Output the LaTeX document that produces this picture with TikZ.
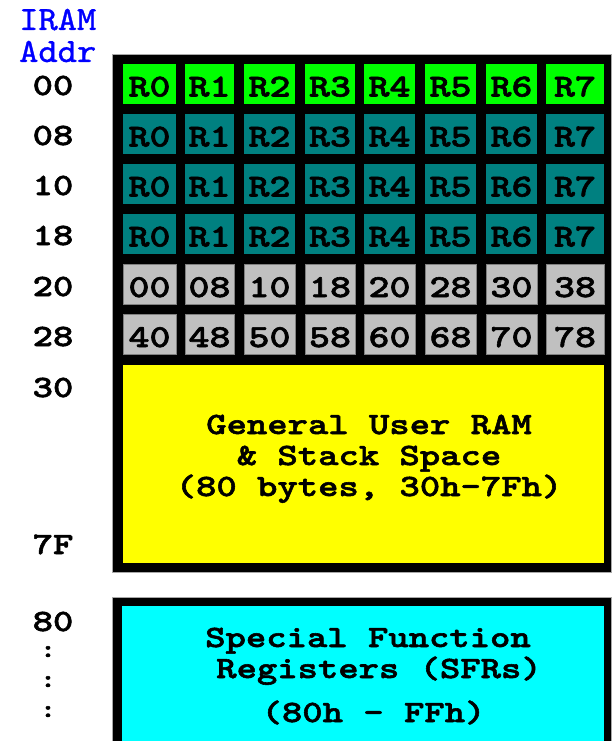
\documentclass[tikz,border=0pt]{standalone}
\usepackage{fontspec}
\newfontfamily\pixb{lmmonolt10-bold.otf}[FakeStretch=1.25,FakeBold=1.8]
\newfontfamily\pixr{lmmono10-regular.otf}[FakeStretch=1.08,FakeBold=1]
\definecolor{regA}{HTML}{00FF00}
\definecolor{regB}{HTML}{008080}
\definecolor{bitc}{HTML}{C0C0C0}
\definecolor{bitline}{HTML}{808080}
\definecolor{ramc}{HTML}{FFFF00}
\definecolor{sfrc}{HTML}{00FFFF}
\definecolor{addrc}{HTML}{0000FF}
\definecolor{edgec}{HTML}{A8A8A8}
\begin{document}
\begin{tikzpicture}[x=1pt,y=-1pt,
  box/.style={rectangle, inner sep=0pt, outer sep=0pt},
  blk/.style={box, fill=black, draw=edgec, line width=0.8pt},
  cell/.style={box, minimum height=40pt, text height=25pt, text depth=0pt,
               font=\pixb\fontsize{32}{32}\selectfont},
  bigtxt/.style={anchor=base, inner sep=0pt, font=\pixb\fontsize{31}{31}\selectfont},
  addrlab/.style={anchor=base, inner sep=0pt, font=\pixb\fontsize{31}{31}\selectfont},
  dotlab/.style={anchor=base, inner sep=0pt, font=\pixb\fontsize{25}{25}\selectfont},
  headlab/.style={anchor=base west, inner sep=0pt, text=addrc, font=\pixr\fontsize{34}{34}\selectfont}]
\useasboundingbox (0,0) rectangle (611,741);
\fill[white] (0,0) rectangle (611,741);
% header
\node[headlab] (h1) at (19,30) {IRAM};
\node[headlab] (h2) at (19,62) {Addr};
% main black block
\node[blk, minimum width=499pt, minimum height=518pt] (mainbox) at (361.5,313) {};
% register / bit cells
\foreach \l/\r/\ga/\gb [count=\c from 0] in
  {123/176/00/40,185/234/08/48,244/295/10/50,305/355/18/58,
   364/415/20/60,425/476/28/68,486/537/30/70,546/604/38/78}{
  \pgfmathsetmacro\cx{(\l+\r)/2}
  \pgfmathsetmacro\w{\r-\l}
  \node[cell, fill=regA, minimum width=\w pt] (b0c\c) at (\cx,84) {R\c};
  \node[cell, fill=regB, minimum width=\w pt] (b1c\c) at (\cx,134) {R\c};
  \node[cell, fill=regB, minimum width=\w pt] (b2c\c) at (\cx,184) {R\c};
  \node[cell, fill=regB, minimum width=\w pt] (b3c\c) at (\cx,234) {R\c};
  \node[cell, fill=bitc, draw=bitline, line width=1pt, minimum width=\w pt] (g0c\c) at (\cx,284.5) {\ga};
  \node[cell, fill=bitc, draw=bitline, line width=1pt, minimum width=\w pt] (g1c\c) at (\cx,334.5) {\gb};
}
% general RAM
\node[box, fill=ramc, minimum width=481pt, minimum height=198pt] (ramblk) at (363.5,464) {};
\node[bigtxt] (ram1) at (369,434) {General User RAM};
\node[bigtxt] (ram2) at (369,465) {\& Stack Space};
\node[bigtxt] (ram3) at (369,496) {(80 bytes, 30h-7Fh)};
% SFR block
\node[blk, minimum width=499pt, minimum height=146pt] (sfrbox) at (361.5,670) {};
\node[box, fill=sfrc, minimum width=482pt, minimum height=136pt] (sfrblk) at (363,674) {};
\node[bigtxt] (sfr1) at (368,647) {Special Function};
\node[bigtxt] (sfr2) at (379,678) {Registers (SFRs)};
\node[bigtxt] (sfr3) at (373.5,722) {(80h - FFh)};
% address labels
\foreach \t/\yy [count=\i] in {00/95,08/145,10/195,18/245,20/296,28/346,30/397,7F/554,80/631}{
  \node[addrlab] (a\i) at (53,\yy) {\t};
}
\node[dotlab] (d1) at (48,657) {:};
\node[dotlab] (d2) at (48,687) {:};
\node[dotlab] (d3) at (48,717) {:};
\end{tikzpicture}
\end{document}
